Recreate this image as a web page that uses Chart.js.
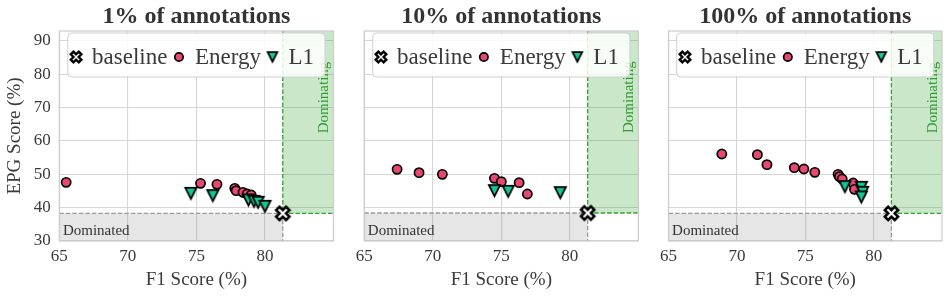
<!DOCTYPE html>
<html><head><meta charset="utf-8">
<script src="https://cdn.jsdelivr.net/npm/chart.js@4.4.1/dist/chart.umd.min.js"></script>
<style>
html,body{margin:0;padding:0;background:#fff;}
#wrap{position:relative;width:951px;height:299px;overflow:hidden;background:#fff;}
#wrap canvas{position:absolute;left:0;top:0;}
</style></head>
<body>
<div id="wrap">
<canvas id="c0" width="951" height="299"></canvas>
<canvas id="c1" width="951" height="299"></canvas>
<canvas id="c2" width="951" height="299"></canvas>
</div>
<script>
// ---- data ----
const panelTitles = ['1% of annotations', '10% of annotations', '100% of annotations'];
const seriesLabels = ['baseline', 'Energy', 'L1'];
const xTicks = [65, 70, 75, 80];
const yTicks = [30, 40, 50, 60, 70, 80, 90];
const xLabel = 'F1 Score (%)';
const yLabel = 'EPG Score (%)';
const dominatedLabel = 'Dominated';
const dominatingLabel = 'Dominating';

const baselineF1 = [81.3, 81.3, 81.3];
const baselineEPG = [38.3, 38.4, 38.3];

const energyF1_1 = [65.5, 75.3, 76.5, 77.8, 77.9, 78.4, 78.7, 79.0];
const energyEPG_1 = [47.6, 47.3, 47.0, 45.8, 45.1, 44.6, 44.1, 43.8];
const l1F1_1 = [74.6, 76.2, 78.8, 79.2, 79.5, 80.0];
const l1EPG_1 = [44.3, 43.6, 42.3, 41.9, 41.6, 40.4];

const energyF1_10 = [67.4, 69.0, 70.7, 74.5, 75.0, 76.3, 76.9];
const energyEPG_10 = [51.5, 50.5, 50.0, 48.8, 47.8, 47.5, 44.1];
const l1F1_10 = [74.5, 75.5, 79.3];
const l1EPG_10 = [45.1, 44.9, 44.5];

const energyF1_100 = [68.9, 71.5, 72.2, 74.2, 74.9, 75.7, 77.4, 77.5, 77.7, 78.5, 78.6];
const energyEPG_100 = [56.1, 55.9, 52.9, 52.0, 51.6, 50.6, 50.0, 49.3, 48.6, 47.4, 45.5];
const l1F1_100 = [77.9, 79.1, 79.2, 79.1];
const l1EPG_100 = [46.3, 46.1, 44.6, 43.2];

const energyF1 = [energyF1_1, energyF1_10, energyF1_100];
const energyEPG = [energyEPG_1, energyEPG_10, energyEPG_100];
const l1F1 = [l1F1_1, l1F1_10, l1F1_100];
const l1EPG = [l1EPG_1, l1EPG_10, l1EPG_100];

// ---- style ----
const FONT = "'Liberation Serif', 'Times New Roman', serif";
const PINK = '#E8486F';
const TEAL = '#13C795';
const TEXT = '#3a3a3a';
const GRID = '#d6d6d6';
const plotLeft = [59.3, 364.2, 668.5];
const plotRight = [333.5, 638.4, 942.7];

function makeX(size, lw) {
  const c = document.createElement('canvas');
  const dim = Math.ceil(size + lw * 2 + 2);
  c.width = c.height = dim;
  const g = c.getContext('2d');
  const u = size / 4;
  const pts = [[-1,-2],[0,-1],[1,-2],[2,-1],[1,0],[2,1],[1,2],[0,1],[-1,2],[-2,1],[-1,0],[-2,-1]];
  g.translate(dim / 2, dim / 2);
  g.beginPath();
  pts.forEach((p, i) => { const px = p[0] * u, py = p[1] * u; i ? g.lineTo(px, py) : g.moveTo(px, py); });
  g.closePath();
  g.fillStyle = '#fff'; g.fill();
  g.lineWidth = lw; g.lineJoin = 'miter'; g.strokeStyle = '#000'; g.stroke();
  return c;
}
function makeTri(w, lw) {
  const c = document.createElement('canvas');
  const dim = Math.ceil(w + lw * 2 + 4);
  c.width = c.height = dim;
  const g = c.getContext('2d');
  g.translate(dim / 2, dim / 2);
  g.beginPath();
  g.moveTo(-w / 2, -w / 2); g.lineTo(w / 2, -w / 2); g.lineTo(0, w / 2); g.closePath();
  g.fillStyle = TEAL; g.fill();
  g.lineWidth = lw; g.lineJoin = 'miter'; g.strokeStyle = '#000'; g.stroke();
  return c;
}
const xPlot = makeX(13.2, 2.6);
const triPlot = makeTri(11.2, 1.8);
const xLeg = makeX(10.6, 2.4);
const triLeg = makeTri(9.6, 1.8);

const regionPlugin = {
  id: 'regions',
  beforeDatasetsDraw(chart, args, opts) {
    const {ctx, chartArea: a, scales: {x, y}} = chart;
    const bx = x.getPixelForValue(opts.bx), by = y.getPixelForValue(opts.by);
    ctx.save();
    ctx.fillStyle = 'rgba(128,128,128,0.2)';
    ctx.fillRect(a.left, by, bx - a.left, a.bottom - by);
    ctx.fillStyle = 'rgba(44,160,44,0.25)';
    ctx.fillRect(bx, a.top, a.right - bx, by - a.top);
    ctx.lineWidth = 1.3;
    ctx.setLineDash([4.5, 2]);
    ctx.strokeStyle = '#9a9a9a';
    ctx.beginPath(); ctx.moveTo(a.left, by); ctx.lineTo(bx, by); ctx.moveTo(bx, by); ctx.lineTo(bx, a.bottom); ctx.stroke();
    ctx.strokeStyle = '#35a335';
    ctx.beginPath(); ctx.moveTo(bx, a.top); ctx.lineTo(bx, by); ctx.lineTo(a.right, by); ctx.stroke();
    ctx.setLineDash([]);
    // frame
    ctx.strokeStyle = '#cccccc'; ctx.lineWidth = 1.2;
    ctx.strokeRect(a.left, a.top, a.right - a.left, a.bottom - a.top);
    // texts
    ctx.font = '15px ' + FONT;
    ctx.fillStyle = '#333';
    ctx.textAlign = 'left'; ctx.textBaseline = 'alphabetic';
    ctx.fillText(dominatedLabel, a.left + 3.6, a.bottom - 6);
    ctx.save();
    ctx.translate(a.right - 9, by - 80);
    ctx.rotate(-Math.PI / 2);
    ctx.fillStyle = '#2f9e2f';
    ctx.textBaseline = 'middle';
    ctx.fillText(dominatingLabel, 0, 0);
    ctx.restore();
    ctx.restore();
  }
};

const legendPlugin = {
  id: 'insideLegend',
  afterDatasetsDraw(chart) {
    const {ctx, chartArea: a} = chart;
    ctx.save();
    ctx.font = '23px ' + FONT;
    const items = seriesLabels.map(l => ({label: l, w: ctx.measureText(l).width}));
    const pad = 8.3, toText = 16, gap = 11.5, endPad = 11;
    let total = pad;
    items.forEach((it, i) => { total += toText + it.w + (i < items.length - 1 ? gap : endPad); });
    const bw = total, bh = 44;
    const bxl = (a.left + a.right) / 2 - bw / 2, bt = a.top + 2;
    ctx.beginPath();
    ctx.roundRect(bxl, bt, bw, bh, 4);
    ctx.fillStyle = 'rgba(255,255,255,0.85)'; ctx.fill();
    ctx.strokeStyle = '#cfcfcf'; ctx.lineWidth = 1; ctx.stroke();
    const cy = bt + 24;
    let cx = bxl + pad;
    items.forEach((it, i) => {
      if (it.label === 'baseline') {
        ctx.drawImage(xLeg, cx - xLeg.width / 2, cy - xLeg.height / 2);
      } else if (it.label === 'Energy') {
        ctx.beginPath(); ctx.arc(cx, cy, 4.2, 0, Math.PI * 2);
        ctx.fillStyle = PINK; ctx.fill(); ctx.lineWidth = 1.7; ctx.strokeStyle = '#000'; ctx.stroke();
      } else {
        ctx.drawImage(triLeg, cx - triLeg.width / 2, cy - triLeg.height / 2);
      }
      ctx.fillStyle = TEXT; ctx.textAlign = 'left'; ctx.textBaseline = 'middle';
      ctx.fillText(it.label, cx + toText, cy + 1);
      cx += toText + it.w + gap;
    });
    ctx.restore();
  }
};

function pts(xs, ys) { return xs.map((v, i) => ({x: v, y: ys[i]})); }

function makeChart(i) {
  const first = i === 0;
  new Chart(document.getElementById('c' + i), {
    type: 'scatter',
    data: {
      datasets: [
        {label: seriesLabels[0], data: pts([baselineF1[i]], [baselineEPG[i]]), pointStyle: xPlot, pointRadius: 8, order: 0},
        {label: seriesLabels[2], data: pts(l1F1[i], l1EPG[i]), pointStyle: triPlot, pointRadius: 7, order: 1},
        {label: seriesLabels[1], data: pts(energyF1[i], energyEPG[i]), pointStyle: 'circle', pointRadius: 4.6,
         pointBorderWidth: 1.7, backgroundColor: PINK, borderColor: '#000', order: 2}
      ]
    },
    options: {
      responsive: false, animation: false, devicePixelRatio: 1,
      events: [],
      layout: {padding: {left: first ? 0 : plotLeft[i], right: 951 - plotRight[i], top: 0, bottom: 0}},
      plugins: {
        legend: {display: false}, tooltip: {enabled: false},
        title: {display: true, text: panelTitles[i], fullSize: false, color: '#333',
                font: {family: FONT, size: 24, weight: 'bold', lineHeight: 1.2}, padding: {top: 2.2, bottom: 0}},
        regions: {bx: baselineF1[i], by: baselineEPG[i]}
      },
      scales: {
        x: {
          type: 'linear', position: 'bottom', min: 65, max: 85,
          afterBuildTicks: s => { s.ticks = xTicks.map(v => ({value: v})); },
          afterFit: s => { s.height = 58; },
          grid: {color: GRID, lineWidth: 1.1, drawTicks: false},
          border: {display: false},
          ticks: {font: {family: FONT, size: 17}, color: TEXT, padding: 5, maxRotation: 0},
          title: {display: true, text: xLabel, color: TEXT, font: {family: FONT, size: 19, lineHeight: 1.2}, padding: {top: 0, bottom: 8}}
        },
        y: {
          type: 'linear', position: 'left', min: 30, max: 93,
          afterBuildTicks: s => { s.ticks = yTicks.map(v => ({value: v})); },
          afterFit: s => { s.width = first ? plotLeft[0] : 0; },
          grid: {color: GRID, lineWidth: 1.1, drawTicks: false},
          border: {display: false},
          ticks: {display: first, font: {family: FONT, size: 17}, color: TEXT, padding: 8.5},
          title: {display: first, text: yLabel, color: TEXT, font: {family: FONT, size: 19, lineHeight: 1.2}, padding: {top: 4, bottom: 0}}
        }
      }
    },
    plugins: [regionPlugin, legendPlugin]
  });
}
[0, 1, 2].forEach(makeChart);
</script>
</body></html>
